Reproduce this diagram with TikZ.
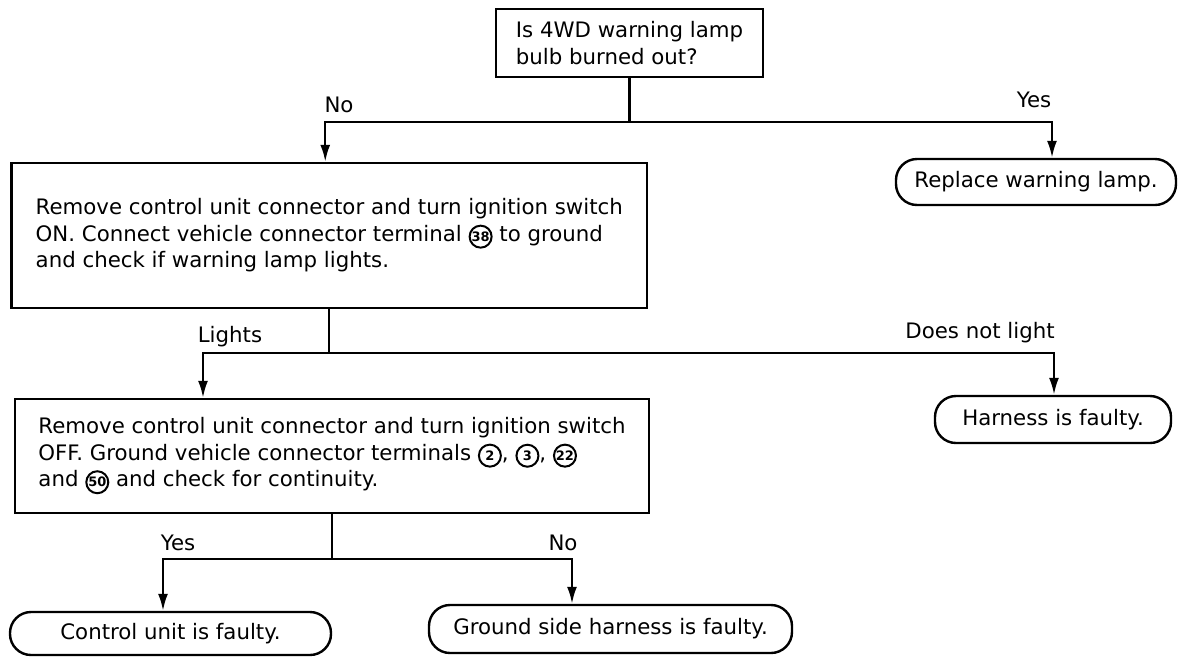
\documentclass[tikz,border=0pt]{standalone}
\usepackage{fontspec}
\setmainfont{DejaVu Sans}
\usetikzlibrary{arrows.meta,calc}
\newcommand{\cnum}[1]{\tikz[baseline=(cn.base)]\node[circle,draw,line width=2pt,inner sep=0pt,minimum size=22pt,font=\fontsize{13}{13}\selectfont\bfseries](cn){#1};}
\begin{document}
\begin{tikzpicture}[x=1pt,y=-1pt,
  txt/.style={font=\fontsize{21.3}{26.5}\selectfont},
  box/.style={txt,draw,line width=2.4pt,align=left,inner sep=0pt},
  term/.style={txt,draw,line width=2.4pt,rounded corners=21pt,inner sep=0pt},
  lbl/.style={txt,inner sep=0pt},
  conn/.style={line width=2.4pt},
  arr/.style={conn,-{Latex[length=17pt,width=10pt]}}]
\useasboundingbox (0,0) rectangle (1178,657);

\node[box,minimum width=267,minimum height=68] (top) at (629.5,43)
  {Is 4WD warning lamp\\bulb burned out?};
\node[box,minimum width=635.5,minimum height=145] (b1) at (329.25,235.5)
  {Remove control unit connector and turn ignition switch\\
   ON. Connect vehicle connector terminal \cnum{38} to ground\\
   and check if warning lamp lights.};
\node[box,minimum width=634,minimum height=114] (b2) at (332,456)
  {Remove control unit connector and turn ignition switch\\
   OFF. Ground vehicle connector terminals \cnum{2}, \cnum{3}, \cnum{22}\\
   and \cnum{50} and check for continuity.};

\node[term,minimum width=280,minimum height=46] (rep) at (1036,182) {Replace warning lamp.};
\node[term,minimum width=236,minimum height=47] (har) at (1053,419.5) {Harness is faulty.};
\node[term,minimum width=321,minimum height=43] (cu) at (170.5,633.5) {Control unit is faulty.};
\node[term,minimum width=363,minimum height=48] (gs) at (610.5,629) {Ground side harness is faulty.};

\node[lbl] (lno) at (339,105) {No};
\node[lbl] (lyes) at (1034,100) {Yes};
\node[lbl] (llights) at (230,337) {Lights};
\node[lbl] (ldnl) at (980,333) {Does not light};
\node[lbl] (lyes2) at (178,543) {Yes};
\node[lbl] (lno2) at (563,543) {No};

\coordinate (j1) at (629.5,122);
\draw[conn] (top.south) -- (j1);
\draw[arr] (j1) -| ([xshift=-4]b1.north);
\draw[arr] (j1) -| ([xshift=16]rep.north);

\coordinate (j2) at (329.25,353);
\draw[conn] (b1.south) -- (j2);
\draw[arr] (j2) -| ([xshift=-129]b2.north);
\draw[arr] (j2) -| ([xshift=1]har.north);

\coordinate (j3) at (332,559);
\draw[conn] (b2.south) -- (j3);
\draw[arr] (j3) -| ([xshift=-7.5]cu.north);
\draw[arr] (j3) -| ([xshift=-38.5]gs.north);
\end{tikzpicture}
\end{document}
